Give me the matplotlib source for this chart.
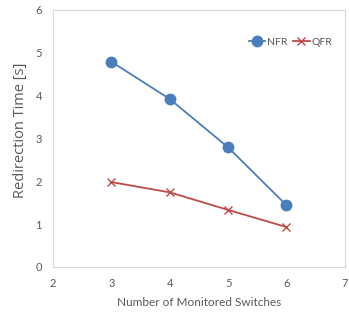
import matplotlib
matplotlib.use("Agg")
import matplotlib.pyplot as plt

switches = [3, 4, 5, 6]
nfr = [4.79, 3.92, 2.79, 1.44]
qfr = [1.98, 1.74, 1.33, 0.93]
xticks = [2, 3, 4, 5, 6, 7]
yticks = [0, 1, 2, 3, 4, 5, 6]

plt.rcParams['font.family'] = ['Lato', 'DejaVu Sans']
txt = '#595959'

fig = plt.figure(figsize=(3.49, 3.2), dpi=100)
ax = fig.add_axes([0.152, 0.166, 0.836, 0.803])
ax.plot(switches, nfr, color='#4A7EBB', marker='o', markersize=7.5, linewidth=1.3, label='NFR')
ax.plot(switches, qfr, color='#BE4B48', marker='x', markersize=6, markeredgewidth=1.0, linewidth=1.3, label='QFR')
ax.set_xlim(2, 7)
ax.set_ylim(0, 6)
ax.set_xticks(xticks)
ax.set_yticks(yticks)
ax.tick_params(length=0, labelsize=8, colors=txt, pad=8)
for s in ax.spines.values():
    s.set_color('#D9D9D9')
    s.set_linewidth(0.8)
ax.set_xlabel('Number of Monitored Switches', fontsize=8.5, color=txt, labelpad=6)
ax.set_ylabel('Redirection Time [s]', fontsize=10.5, color=txt,
              family=['Open Sans', 'DejaVu Sans'])
ax.yaxis.set_label_coords(-0.085, 0.53)
leg = ax.legend(loc='upper right', ncol=2, frameon=False, fontsize=7.5, handlelength=1.6,
                handletextpad=0.2, columnspacing=0.5, bbox_to_anchor=(0.99, 0.93))
for t in leg.get_texts():
    t.set_color(txt)
fig.savefig('out.png', dpi=100)
